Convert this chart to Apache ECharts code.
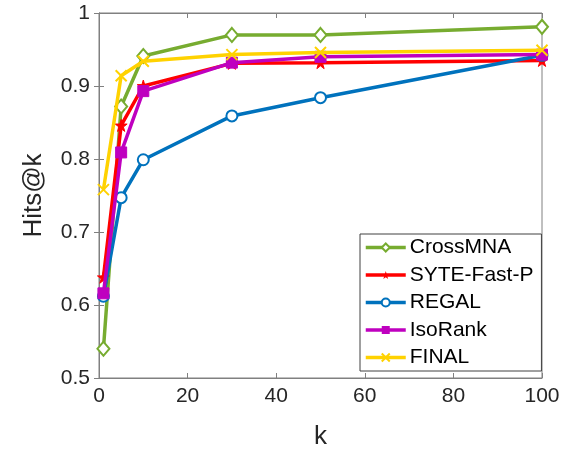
<!DOCTYPE html>
<html><head><meta charset="utf-8">
<script src="https://cdn.jsdelivr.net/npm/echarts@6/dist/echarts.min.js"></script>
<style>html,body{margin:0;padding:0;background:#fff}#c{width:565px;height:455px}</style>
</head><body><div id="c"></div>
<script>
const kValues = [1, 5, 10, 30, 50, 100];
const seriesNames = ['CrossMNA', 'SYTE-Fast-P', 'REGAL', 'IsoRank', 'FINAL'];
const crossMNA = [0.540, 0.872, 0.941, 0.970, 0.970, 0.981];
const syteFastP = [0.638, 0.846, 0.900, 0.931, 0.932, 0.935];
const regal = [0.612, 0.747, 0.799, 0.859, 0.884, 0.942];
const isoRank = [0.616, 0.809, 0.893, 0.932, 0.940, 0.943];
const finalVals = [0.758, 0.914, 0.934, 0.943, 0.946, 0.949];
const xTicks = [0, 20, 40, 60, 80, 100];
const yTicks = [0.5, 0.6, 0.7, 0.8, 0.9, 1];

const colors = ['#77AC30', '#FF0000', '#0072BD', '#BF00BF', '#FFD200'];
const starPath = 'path://M50,0 L61,35 L98,35 L68,57 L79,91 L50,70 L21,91 L32,57 L2,35 L39,35 Z';
const xPath = 'path://M0,0L10,10M0,10L10,0';
const symbols = [
  {symbol: 'emptyDiamond', symbolSize: [12, 14], itemStyle: {borderWidth: 2}},
  {symbol: starPath, symbolSize: 12, itemStyle: {}},
  {symbol: 'emptyCircle', symbolSize: 11, itemStyle: {borderWidth: 2}},
  {symbol: 'rect', symbolSize: 11, itemStyle: {}},
  {symbol: xPath, symbolSize: 11, itemStyle: {borderWidth: 2}}
];
const allData = [crossMNA, syteFastP, regal, isoRank, finalVals];

const chart = echarts.init(document.getElementById('c'), null, {renderer: 'canvas'});
const font = 'Liberation Sans, Arial, Helvetica, sans-serif';
const axisColor = '#808080';
const textColor = '#262626';

const series = seriesNames.map((name, i) => ({
  name: name,
  type: 'line',
  data: kValues.map((k, j) => [k, allData[i][j]]),
  symbol: symbols[i].symbol,
  symbolSize: symbols[i].symbolSize,
  showAllSymbol: true,
  lineStyle: {color: colors[i], width: 3.5},
  itemStyle: Object.assign({color: colors[i], borderColor: colors[i]}, symbols[i].itemStyle),
  emphasis: {disabled: true},
  animation: false,
  z: 2 + i
}));

chart.setOption({
  animation: false,
  grid: {left: 99, right: 23, top: 13, bottom: 72, show: true, borderColor: axisColor, borderWidth: 1, containLabel: false},
  legend: {
    orient: 'vertical',
    left: 360, top: 234,
    data: seriesNames,
    itemWidth: 40, itemHeight: 10, itemGap: 6.5,
    padding: [3, 8, 3, 4],
    borderColor: '#404040', borderWidth: 1,
    backgroundColor: '#fff',
    lineStyle: {width: 3.5},
    textStyle: {fontFamily: font, fontSize: 21, color: '#000', lineHeight: 20, padding: [0, 0, 0, -1]},
    z: 10
  },
  xAxis: [{
    type: 'value', min: 0, max: 100, interval: 20,
    name: 'k', nameLocation: 'middle', nameGap: 46,
    nameTextStyle: {fontFamily: font, fontSize: 26, color: textColor},
    axisLine: {show: true, lineStyle: {color: axisColor}},
    axisTick: {show: true, inside: true, length: 5, lineStyle: {color: axisColor}},
    axisLabel: {fontFamily: font, fontSize: 21, color: textColor, margin: 8,
      customValues: xTicks, formatter: v => String(v)},
    splitLine: {show: false}
  }, {
    type: 'value', min: 0, max: 100, interval: 20, position: 'top',
    axisLine: {show: true, lineStyle: {color: axisColor}},
    axisTick: {show: true, inside: true, length: 5, lineStyle: {color: axisColor}},
    axisLabel: {show: false}, splitLine: {show: false}
  }],
  yAxis: [{
    type: 'value', min: 0.5, max: 1, interval: 0.1,
    name: 'Hits@k', nameLocation: 'middle', nameGap: 52,
    nameTextStyle: {fontFamily: font, fontSize: 26, color: textColor},
    axisLine: {show: true, lineStyle: {color: axisColor}},
    axisTick: {show: true, inside: true, length: 5, lineStyle: {color: axisColor}},
    axisLabel: {fontFamily: font, fontSize: 21, color: textColor, margin: 9,
      customValues: yTicks, formatter: v => String(Math.round(v * 10) / 10)},
    splitLine: {show: false}
  }, {
    type: 'value', min: 0.5, max: 1, interval: 0.1, position: 'right',
    axisLine: {show: true, lineStyle: {color: axisColor}},
    axisTick: {show: true, inside: true, length: 5, lineStyle: {color: axisColor}},
    axisLabel: {show: false}, splitLine: {show: false}
  }],
  series: series
});
</script>
</body></html>
